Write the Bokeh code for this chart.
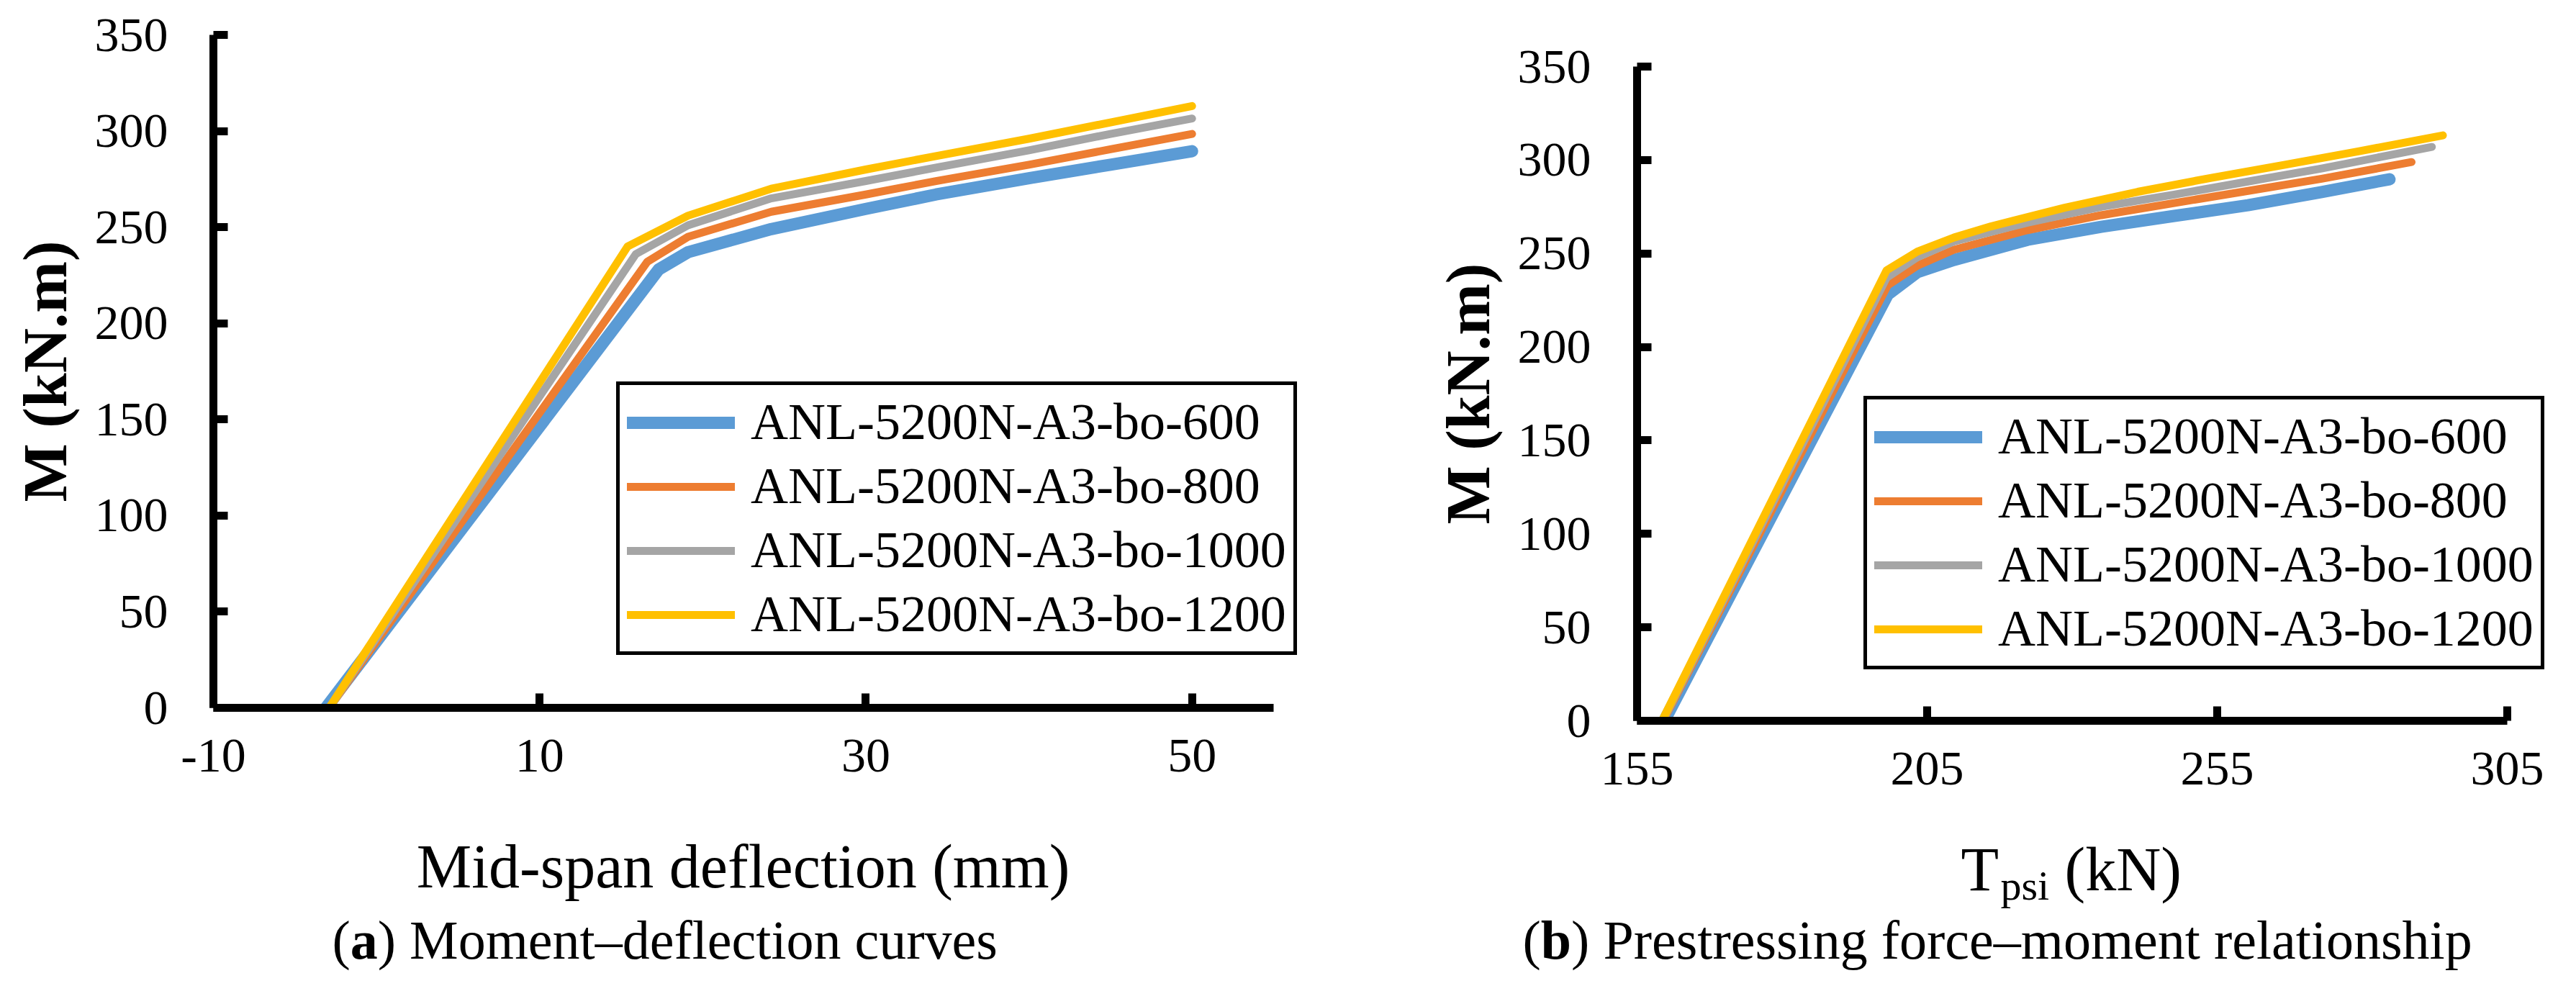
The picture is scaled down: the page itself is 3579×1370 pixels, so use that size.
from bokeh.plotting import figure
from bokeh.models import Range1d, FixedTicker
from bokeh.layouts import row, column
from bokeh.core.properties import value
from bokeh.embed import file_html
from bokeh.resources import INLINE

series_names = ["ANL-5200N-A3-bo-600", "ANL-5200N-A3-bo-800",
                "ANL-5200N-A3-bo-1000", "ANL-5200N-A3-bo-1200"]
colors = ["#5B9BD5", "#ED7D31", "#A5A5A5", "#FFC000"]
line_widths = [17, 11, 11, 11]

# (a) Moment-deflection curves
defl_600 = [-3.1, 17.3, 19.1, 24.2, 30, 34.3, 40, 45, 50]
mom_a_600 = [0, 228, 237, 249, 259.5, 267, 275.5, 282.5, 289.5]
defl_800 = [-2.9, 16.6, 19.1, 24.2, 30, 34.3, 40, 45, 50]
mom_a_800 = [0, 232, 245, 258, 267, 274, 282.5, 290.5, 298.5]
defl_1000 = [-2.9, 15.9, 19.1, 24.2, 30, 34.3, 40, 45, 50]
mom_a_1000 = [0, 236, 251, 265, 274, 281, 290, 298.5, 306.5]
defl_1200 = [-2.9, 15.4, 19.1, 24.2, 30, 34.3, 40, 45, 50]
mom_a_1200 = [0, 240, 256, 270, 280, 287, 296, 304.5, 313]

# (b) Prestressing force-moment relationship
force_600 = [159.7, 198.2, 203.3, 209.6, 222.3, 235, 247.6, 260.3, 273, 284.7]
mom_b_600 = [0, 228, 240, 246.5, 257.3, 264.3, 270.1, 275.8, 282.9, 289.7]
force_800 = [159.5, 198.2, 203.3, 209.6, 222.3, 235, 247.6, 260.3, 273, 288.5]
mom_b_800 = [0, 233, 243.5, 252, 262.5, 270.5, 277, 283.5, 290, 298.9]
force_1000 = [159.4, 198, 203.3, 209.6, 222.3, 235, 247.6, 260.3, 273, 292]
mom_b_1000 = [0, 237, 248, 256.5, 266.5, 275, 281.5, 288.5, 295.5, 307]
force_1200 = [159.3, 198, 203.3, 209.6, 216, 228.7, 241.3, 254, 266.7, 279.3, 293.9]
mom_b_1200 = [0, 241, 251, 258.5, 264.5, 274.5, 283, 290.5, 297.5, 304.6, 313.2]

x_ticks_a = [-10, 10, 30, 50]
x_ticks_b = [155, 205, 255, 305]
y_ticks = [0, 50, 100, 150, 200, 250, 300, 350]

y_title = "M (kN.m)"
x_title_a = "Mid-span deflection (mm)"
x_title_b = ["T", "psi", "(kN)"]
caption_a = ["(", "a", ") Moment\u2013deflection curves"]
caption_b = ["(", "b", ") Prestressing force\u2013moment relationship"]

FONT = "Liberation Serif"


def style_axes(p, x_standoff, y_standoff):
    for ax in (p.xaxis[0], p.yaxis[0]):
        ax.axis_line_width = 11
        ax.axis_line_color = "black"
        ax.major_tick_line_width = 11
        ax.major_tick_line_color = "black"
        ax.major_tick_in = 20
        ax.major_tick_out = 0
        ax.minor_tick_line_color = None
        ax.major_label_text_font = FONT
        ax.major_label_text_font_size = "68px"
        ax.major_label_text_color = "black"
        ax.axis_label_text_font = FONT
        ax.axis_label_text_color = "black"
    p.xaxis[0].major_label_standoff = x_standoff
    p.yaxis[0].major_label_standoff = y_standoff
    p.yaxis[0].ticker = FixedTicker(ticks=y_ticks)
    p.yaxis[0].bounds = (0, 350)
    p.yaxis[0].axis_label = y_title
    p.yaxis[0].axis_label_text_font_size = "86px"
    p.yaxis[0].axis_label_text_font_style = "bold"
    p.yaxis[0].axis_label_standoff = 18
    p.xgrid.visible = False
    p.ygrid.visible = False
    p.outline_line_color = None


def style_legend(p, loc):
    lg = p.legend[0]
    lg.location = loc
    lg.label_text_font = FONT
    lg.label_text_font_size = "72px"
    lg.label_text_color = "black"
    lg.glyph_width = 150
    lg.glyph_height = 40
    lg.label_standoff = 22
    lg.padding = 10
    lg.spacing = 6
    lg.margin = 0
    lg.border_line_color = "black"
    lg.border_line_alpha = 1.0
    lg.border_line_width = 5
    lg.background_fill_color = "white"
    lg.background_fill_alpha = 1.0


# ---------- panel (a) ----------
# 22.662 px per mm; frame extended to the right so the legend stays inside it
pa = figure(frame_width=1506, frame_height=935,
            min_border_left=296, min_border_right=0,
            min_border_top=48, min_border_bottom=150,
            x_range=Range1d(-10, 56.456), y_range=Range1d(0, 350),
            output_backend="svg", toolbar_location=None,
            background_fill_color="white", border_fill_color="white")
style_axes(pa, 44, 63)
pa.xaxis[0].ticker = FixedTicker(ticks=x_ticks_a)
pa.xaxis[0].bounds = (-10, 55)
pa.xaxis[0].major_label_overrides = {t: str(t) for t in x_ticks_a}

xs_a = [defl_600, defl_800, defl_1000, defl_1200]
ys_a = [mom_a_600, mom_a_800, mom_a_1000, mom_a_1200]
for xs, ys, c, w, n in zip(xs_a, ys_a, colors, line_widths, series_names):
    pa.line(xs, ys, line_color=c, line_width=w, line_cap="round",
            line_join="round", legend_label=n)
style_legend(pa, (560, 73))

# ---------- panel (b) ----------
# 8.06 px per kN; frame extended to the right so the legend stays inside it
pb = figure(frame_width=1278, frame_height=909,
            min_border_left=472, min_border_right=11,
            min_border_top=92, min_border_bottom=150,
            x_range=Range1d(155, 313.56), y_range=Range1d(0, 350),
            output_backend="svg", toolbar_location=None,
            background_fill_color="white", border_fill_color="white")
style_axes(pb, 44, 64)
pb.xaxis[0].ticker = FixedTicker(ticks=x_ticks_b)
pb.xaxis[0].bounds = (155, 305)

xs_b = [force_600, force_800, force_1000, force_1200]
ys_b = [mom_b_600, mom_b_800, mom_b_1000, mom_b_1200]
for xs, ys, c, w, n in zip(xs_b, ys_b, colors, line_widths, series_names):
    pb.line(xs, ys, line_color=c, line_width=w, line_cap="round",
            line_join="round", legend_label=n)
style_legend(pb, (315, 71))

# ---------- text strip below both panels (page-pixel data coordinates) ----------
STRIP_TOP = 1159
STRIP_BOTTOM = 1362
strip = figure(width=3563, height=STRIP_BOTTOM - STRIP_TOP, title=None,
               x_axis_location=None, y_axis_location=None,
               min_border_left=296, min_border_right=80,
               min_border_top=0, min_border_bottom=0,
               x_range=Range1d(304, 3491),
               y_range=Range1d(STRIP_BOTTOM, STRIP_TOP),
               output_backend="svg", toolbar_location=None,
               background_fill_color="white", border_fill_color="white")
strip.xgrid.visible = False
strip.ygrid.visible = False
strip.outline_line_color = None


def put(x, y, txt, size, bold=False, align="left"):
    strip.text(x=[x], y=[y], text=[txt], text_font=value(FONT),
               text_font_size=value(f"{size}px"),
               text_font_style="bold" if bold else "normal",
               text_align=align, text_baseline="alphabetic",
               text_color="black")


put(1040, 1211, x_title_a, 86, align="center")
put(2732, 1215, x_title_b[0], 86)
put(2787, 1238, x_title_b[1], 58)
put(2876, 1215, x_title_b[2], 86)

put(469, 1313, caption_a[0], 76)
put(494.3, 1313, caption_a[1], 76, bold=True)
put(532.3, 1313, caption_a[2], 76)

put(2123, 1313, caption_b[0], 76)
put(2148.3, 1313, caption_b[1], 76, bold=True)
put(2190.6, 1313, caption_b[2], 76)

layout = column(row(column(pa), column(pb)), strip)
open("out.html", "w").write(file_html(layout, INLINE))
